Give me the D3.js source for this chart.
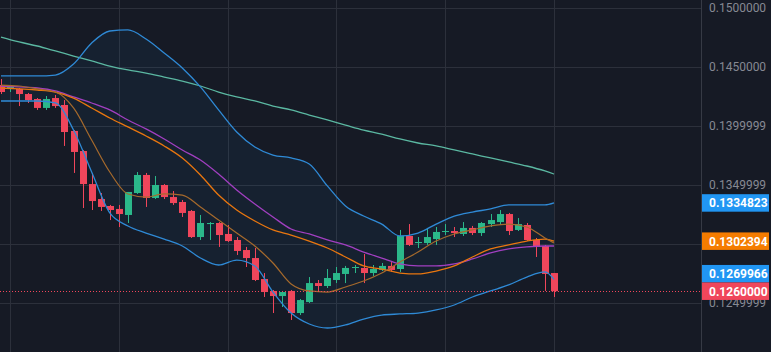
<!DOCTYPE html>
<html>
<head>
<meta charset="utf-8">
<script src="https://cdn.jsdelivr.net/npm/d3@7"></script>
<style>
  body { margin: 0; background: #161a25; overflow: hidden; }
</style>
</head>
<body>
<div id="chart"></div>
<script>
// candles, one entry per bar
var opens  = [0.14347,0.14322,0.14314,0.14271,0.14229,0.14153,0.14237,0.14178,0.13958,0.13788,0.13508,0.13381,0.13322,0.13297,0.13246,0.13432,0.13585,0.13390,0.13500,0.13398,0.13356,0.13280,0.13059,0.13169,0.13178,0.13085,0.13034,0.12949,0.12881,0.12703,0.12602,0.12559,0.12602,0.12415,0.12508,0.12669,0.12644,0.12695,0.12746,0.12797,0.12797,0.12754,0.12780,0.12814,0.12788,0.13068,0.13008,0.13008,0.13042,0.13102,0.13110,0.13085,0.13136,0.13093,0.13169,0.13186,0.13254,0.13119,0.13161,0.13034,0.12983,0.12754]
var highs  = [0.14398,0.14347,0.14322,0.14280,0.14237,0.14254,0.14263,0.14220,0.13966,0.13797,0.13602,0.13432,0.13331,0.13331,0.13441,0.13610,0.13602,0.13576,0.13508,0.13449,0.13373,0.13288,0.13246,0.13186,0.13186,0.13161,0.13059,0.12975,0.12966,0.12754,0.12610,0.12602,0.12610,0.12534,0.12720,0.12695,0.12788,0.12805,0.12814,0.12822,0.12915,0.12822,0.12839,0.12847,0.13119,0.13169,0.13059,0.13136,0.13144,0.13169,0.13144,0.13186,0.13153,0.13186,0.13254,0.13288,0.13263,0.13220,0.13178,0.13051,0.12992,0.12754]
var lows   = [0.14271,0.14288,0.14169,0.14195,0.14136,0.14136,0.14153,0.13831,0.13602,0.13305,0.13288,0.13280,0.13203,0.13144,0.13178,0.13424,0.13314,0.13381,0.13381,0.13331,0.13229,0.13051,0.13034,0.13034,0.12975,0.13017,0.12907,0.12805,0.12686,0.12551,0.12415,0.12466,0.12356,0.12398,0.12500,0.12593,0.12627,0.12669,0.12669,0.12754,0.12669,0.12729,0.12771,0.12763,0.12763,0.12983,0.12966,0.12992,0.12992,0.13076,0.13059,0.13068,0.13076,0.13068,0.13144,0.13161,0.13076,0.13110,0.13025,0.12890,0.12602,0.12551]
var closes = [0.14288,0.14331,0.14271,0.14220,0.14153,0.14229,0.14169,0.13949,0.13780,0.13508,0.13364,0.13314,0.13288,0.13254,0.13441,0.13585,0.13390,0.13500,0.13398,0.13347,0.13263,0.13059,0.13178,0.13178,0.13076,0.13025,0.12941,0.12881,0.12695,0.12593,0.12559,0.12593,0.12415,0.12525,0.12669,0.12644,0.12712,0.12754,0.12797,0.12805,0.12754,0.12788,0.12814,0.12780,0.13068,0.12992,0.13017,0.13059,0.13102,0.13110,0.13093,0.13136,0.13093,0.13178,0.13203,0.13254,0.13110,0.13169,0.13034,0.12975,0.12746,0.12600]

// indicator lines, read at these bar indices
var lineIdx  = [0,2,4,6,8,10,12,14,16,18,20,22,24,26,28,30,32,34,36,38,40,42,44,46,48,50,52,54,56,58,60,61]
var bbUpper  = [0.14424,0.14424,0.14424,0.14432,0.14525,0.14703,0.14805,0.14814,0.14737,0.14619,0.14492,0.14331,0.14136,0.13949,0.13822,0.13754,0.13729,0.13678,0.13492,0.13322,0.13237,0.13169,0.13068,0.13093,0.13169,0.13237,0.13271,0.13297,0.13331,0.13331,0.13331,0.13348]
var bbMiddle = [0.14322,0.14314,0.14305,0.14288,0.14237,0.14153,0.14068,0.13992,0.13915,0.13831,0.13729,0.13585,0.13415,0.13288,0.13195,0.13119,0.13076,0.13025,0.12966,0.12890,0.12814,0.12788,0.12754,0.12746,0.12771,0.12814,0.12890,0.12958,0.12992,0.13025,0.13042,0.13024]
var bbLower  = [0.14212,0.14212,0.14212,0.14195,0.13966,0.13610,0.13263,0.13153,0.13093,0.13042,0.12983,0.12881,0.12822,0.12864,0.12814,0.12593,0.12415,0.12322,0.12288,0.12314,0.12364,0.12398,0.12407,0.12415,0.12441,0.12483,0.12551,0.12602,0.12653,0.12720,0.12763,0.12700]
var maFast   = [0.14347,0.14339,0.14314,0.14288,0.14153,0.13881,0.13610,0.13424,0.13398,0.13424,0.13415,0.13314,0.13203,0.13093,0.12983,0.12839,0.12661,0.12602,0.12593,0.12636,0.12686,0.12754,0.12847,0.12932,0.13025,0.13085,0.13119,0.13153,0.13169,0.13144,0.13051,0.13008]
var maMid    = [0.14339,0.14331,0.14322,0.14297,0.14246,0.14195,0.14136,0.14051,0.13975,0.13890,0.13797,0.13712,0.13593,0.13458,0.13339,0.13229,0.13127,0.13085,0.13034,0.12992,0.12932,0.12881,0.12831,0.12814,0.12814,0.12831,0.12873,0.12924,0.12958,0.12975,0.12983,0.12983]
var maSlow   = [0.14754,0.14712,0.14678,0.14636,0.14593,0.14551,0.14508,0.14475,0.14449,0.14415,0.14381,0.14339,0.14288,0.14246,0.14212,0.14169,0.14136,0.14093,0.14051,0.14008,0.13966,0.13932,0.13890,0.13856,0.13831,0.13797,0.13763,0.13729,0.13695,0.13661,0.13619,0.13593]

// price axis (the 0.13 label sits fully under the orange badge, so it has no text)
var priceTicks      = [0.150, 0.145, 0.140, 0.135, 0.130, 0.125]
var priceTickLabels = ['0.1500000', '0.1450000', '0.1399999', '0.1349999', '', '0.1249999']
var timeTicks       = [1, 13, 25, 37, 49, 61]
var badgeLabels     = ['0.1334823', '0.1302394', '0.1269966', '0.1260000']

var width = 771, height = 352
var plotRight = 701
var upColor = '#2bb88a', downColor = '#f0465b'

var svg = d3.select('#chart')
  .append('svg')
    .attr('width', width)
    .attr('height', height)
    .style('font-family', 'Roboto, sans-serif')

svg.append('rect').attr('width', width).attr('height', height).attr('fill', '#161a25')

var x = d3.scaleLinear().domain([0, 61]).range([1, 554])
var y = d3.scaleLinear().domain([0.125, 0.150]).range([303, 8])

svg.append('clipPath').attr('id', 'plot')
  .append('rect').attr('width', plotRight).attr('height', height)

// grid
var grid = svg.append('g').attr('stroke', '#2c303b').attr('stroke-width', 1)
grid.selectAll('.hg').data(priceTicks).enter().append('line')
  .attr('x1', 0).attr('x2', plotRight)
  .attr('y1', d => Math.round(y(d)) + 0.5).attr('y2', d => Math.round(y(d)) + 0.5)
grid.selectAll('.vg').data(timeTicks).enter().append('line')
  .attr('y1', 0).attr('y2', height)
  .attr('x1', d => Math.round(x(d)) + 0.5).attr('x2', d => Math.round(x(d)) + 0.5)

var plot = svg.append('g').attr('clip-path', 'url(#plot)')

function seriesPoints(values) {
  return values.map((v, i) => [lineIdx[i], v])
}

// bollinger fill
plot.append('path')
  .datum(lineIdx.map((d, i) => [d, bbUpper[i], bbLower[i]]))
  .attr('fill', 'rgba(33,150,243,0.06)')
  .attr('d', d3.area().curve(d3.curveMonotoneX)
    .x(d => x(d[0])).y0(d => y(d[2])).y1(d => y(d[1])))

var lines = [
  {values: maSlow,   color: '#5bb8a2', w: 1.3},
  {values: bbUpper,  color: '#2f8ad6', w: 1.3},
  {values: bbLower,  color: '#2f8ad6', w: 1.3},
  {values: maMid,    color: '#a13fc0', w: 1.3},
  {values: bbMiddle, color: '#e8760f', w: 1.3},
  {values: maFast,   color: '#a66a2c', w: 1.2}
]

var line = d3.line().curve(d3.curveMonotoneX).x(d => x(d[0])).y(d => y(d[1]))

// candles
var bars = plot.append('g')
opens.forEach(function(o, i) {
  var c = closes[i]
  var col = c >= o ? upColor : downColor
  var cx = Math.round(x(i)) + 0.5
  bars.append('line')
    .attr('x1', cx).attr('x2', cx)
    .attr('y1', y(highs[i])).attr('y2', y(lows[i]))
    .attr('stroke', col).attr('stroke-width', 1)
  var top = y(Math.max(o, c)), bot = y(Math.min(o, c))
  bars.append('rect')
    .attr('x', cx - 3.5).attr('width', 7)
    .attr('y', top).attr('height', Math.max(1, bot - top))
    .attr('fill', col)
})

lines.forEach(function(l) {
  plot.append('path')
    .datum(seriesPoints(l.values))
    .attr('fill', 'none')
    .attr('stroke', l.color)
    .attr('stroke-width', l.w)
    .attr('d', line)
})

// last price dotted line
var lastClose = closes[closes.length - 1]
plot.append('line')
  .attr('x1', 0).attr('x2', plotRight)
  .attr('y1', Math.round(y(lastClose)) + 0.5).attr('y2', Math.round(y(lastClose)) + 0.5)
  .attr('stroke', downColor).attr('stroke-width', 1).attr('stroke-dasharray', '1,2')

// price axis
svg.append('line')
  .attr('x1', plotRight + 0.5).attr('x2', plotRight + 0.5)
  .attr('y1', 0).attr('y2', height)
  .attr('stroke', '#363a45')

var axis = svg.append('g')
  .attr('transform', 'translate(' + plotRight + ',0)')
  .call(d3.axisRight(y).tickValues(priceTicks).tickSize(0).tickPadding(8)
    .tickFormat((d, i) => priceTickLabels[i]))
axis.select('.domain').remove()
axis.selectAll('text').attr('fill', '#868993').style('font-size', '12px').style('font-family', 'Roboto, sans-serif')

// value badges on the axis
var last = bbUpper.length - 1
var badges = [
  {v: bbUpper[last],  color: '#2196f3', label: badgeLabels[0]},
  {v: bbMiddle[last], color: '#f57c00', label: badgeLabels[1]},
  {v: bbLower[last],  color: '#2196f3', label: badgeLabels[2]},
  {v: lastClose,      color: '#f0465b', label: badgeLabels[3]}
]
badges.forEach(b => b.y = y(b.v))
// push overlapping badges upward, bottom one stays
var bh = 17.5
var sorted = badges.slice().sort((a, b) => b.y - a.y)
for (var i = 1; i < sorted.length; ++i) {
  if (sorted[i].y > sorted[i - 1].y - bh) sorted[i].y = sorted[i - 1].y - bh
}

var bg = svg.append('g')
badges.forEach(function(b) {
  bg.append('rect')
    .attr('x', plotRight + 1).attr('y', b.y - bh / 2)
    .attr('width', 67).attr('height', bh)
    .attr('fill', b.color)
  bg.append('text')
    .attr('x', plotRight + 8).attr('y', b.y + 4.5)
    .attr('fill', '#ffffff')
    .style('font-size', '12px').style('font-weight', 'bold')
    .text(b.label)
})
</script>
</body>
</html>
